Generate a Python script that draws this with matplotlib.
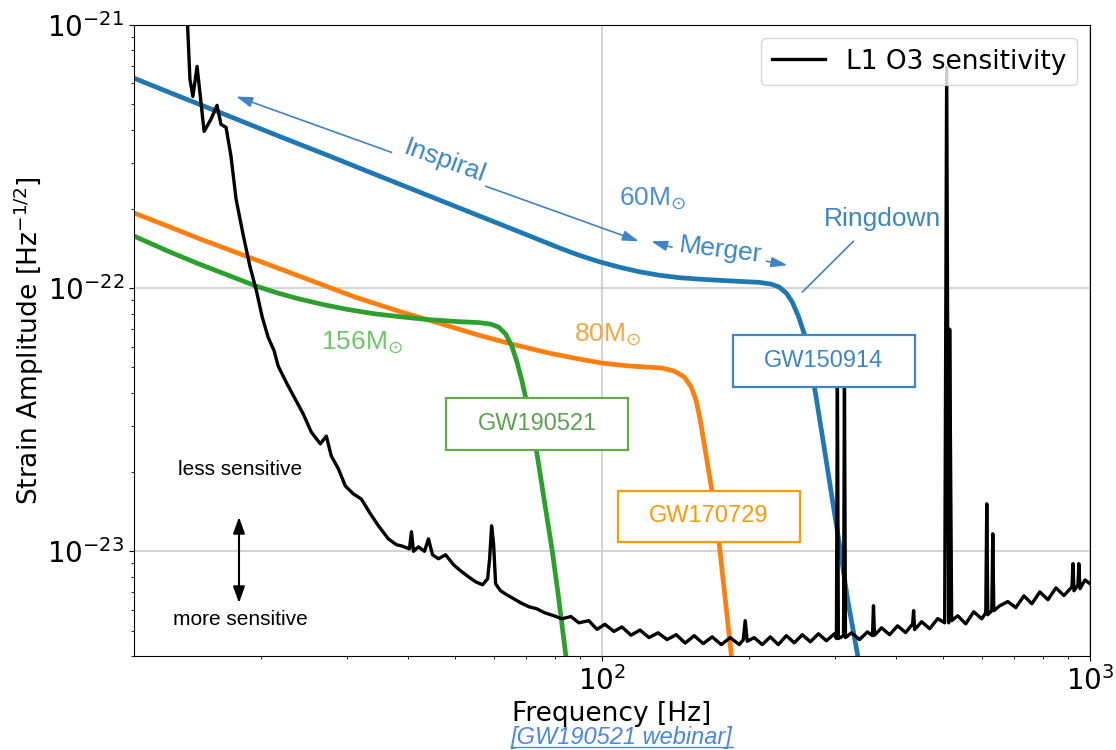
import numpy as np
import matplotlib.pyplot as plt
from matplotlib.patches import Rectangle
from matplotlib.lines import Line2D

# L1 O3 amplitude spectral density, strain values in units of 1e-23 / sqrt(Hz)
l1_freq = [14.1, 14.32, 14.52, 14.81, 15.31, 15.81, 16.27, 16.58, 16.98, 17.38,
           17.80, 18.40, 19.02, 19.56, 20.14, 20.70, 21.31, 21.71, 22.65, 23.53,
           24.43, 25.38, 26.49, 27.25, 27.9, 28.84, 29.8, 30.95, 32.14, 33.55,
           34.84, 36.52, 37.93, 38.83, 40.33, 40.72, 41.11, 42.08, 43.3, 44.12,
           44.97, 46.25, 47.83, 49.67, 51.35, 53.3, 55.1, 56.94, 58.32, 58.88,
           59.43, 59.99, 60.56, 62.0, 63.8, 65.95, 68.2, 70.8, 73.5, 76.37,
           79.7, 82.8, 86.4, 89.7, 94.0, 97.7, 101.4, 105.8, 109.9, 114.7,
           119.7, 124.9, 130.3, 136.0, 142.0, 148.1, 154.5, 161.3, 168.2, 175.6,
           183.2, 191.1, 194.8, 196.6, 198.5, 205.1, 213.1, 221.3, 229.8, 238.7,
           247.8, 257.4, 267.4, 277.7, 288.4, 299.5, 302.3, 303.7, 305.1, 312.6,
           314.0, 315.5, 324.6, 337.1, 350.0, 358.4, 360.1, 361.8, 374.1, 388.5,
           403.4, 419.0, 433.1, 435.1, 437.2, 451.9, 469.4, 487.5, 503.8, 508.6,
           513.4, 515.8, 520.7, 535.8, 556.4, 577.8, 600.1, 611.6, 614.5, 617.4,
           629.2, 632.2, 635.2, 653.3, 678.6, 704.7, 732.1, 760.3, 789.1, 820.0,
           851.6, 884.4, 918.5, 922.9, 927.1, 944.8, 948.6, 953.9, 976.6, 1000.0]
l1_asd = [120, 62.1, 53.5, 69.6, 39.4, 43.8, 49.5, 41.9, 40.8, 31.7,
          21.8, 16.0, 12.02, 9.91, 7.76, 6.52, 5.77, 5.06, 4.32, 3.79,
          3.33, 2.84, 2.56, 2.74, 2.30, 2.06, 1.772, 1.653, 1.58, 1.388,
          1.25, 1.115, 1.059, 1.049, 1.022, 1.186, 1.0, 1.04, 1.0, 1.115,
          0.97, 0.937, 0.97, 0.889, 0.843, 0.80, 0.766, 0.746, 0.786, 0.937,
          1.25, 1.068, 0.753, 0.708, 0.684, 0.660, 0.637, 0.616, 0.605, 0.584,
          0.569, 0.554, 0.565, 0.535, 0.545, 0.505, 0.528, 0.496, 0.516, 0.480,
          0.502, 0.470, 0.490, 0.462, 0.482, 0.448, 0.478, 0.446, 0.473, 0.442,
          0.470, 0.442, 0.461, 0.545, 0.455, 0.470, 0.442, 0.473, 0.442, 0.478,
          0.449, 0.482, 0.453, 0.486, 0.457, 0.486, 0.466, 4.8, 0.466, 0.478,
          4.5, 0.470, 0.490, 0.462, 0.494, 0.478, 0.621, 0.480, 0.512, 0.482,
          0.521, 0.491, 0.530, 0.595, 0.504, 0.540, 0.508, 0.555, 0.535, 69.0,
          0.535, 6.98, 0.545, 0.569, 0.530, 0.589, 0.554, 0.584, 1.515, 0.574,
          0.595, 1.165, 0.595, 0.621, 0.644, 0.611, 0.677, 0.632, 0.701, 0.655,
          0.726, 0.679, 0.733, 0.897, 0.708, 0.746, 0.897, 0.721, 0.778, 0.753]

# 60 Msun (GW150914) characteristic amplitude, units of 1e-23
gw150914_freq = [10.9, 13.53, 17.14, 21.71, 27.50, 34.84, 44.12, 55.88, 70.8, 81.58,
                 89.7, 98.6, 108.4, 119.1, 130.9, 143.9, 158.2, 173.9, 191.1, 210.1,
                 222.3, 230.9, 238.7, 245.5, 252.6, 259.9, 267.4, 275.1, 285.6, 295.3,
                 306.6, 318.5, 334.0, 340.4]
gw150914_amp = [63.2, 53.8, 45.2, 37.9, 31.9, 26.75, 22.46, 18.86, 15.84, 14.25,
                13.34, 12.61, 12.02, 11.55, 11.20, 10.96, 10.82, 10.71, 10.61, 10.52,
                10.36, 10.09, 9.57, 8.85, 7.83, 6.69, 5.15, 3.79, 2.45, 1.653,
                1.068, 0.660, 0.405, 0.328]

# 80 Msun (GW170729)
gw170729_freq = [10.9, 12.91, 14.88, 17.97, 21.71, 26.23, 31.25, 38.28, 45.6, 55.88,
                 65.35, 77.81, 89.7, 100, 113.6, 132.8, 140.6, 147.4, 152.4, 156.0,
                 158.9, 162.0, 168.2, 173.9, 178.9, 184.1, 185.8]
gw170729_amp = [19.43, 17.19, 15.48, 13.58, 11.91, 10.44, 9.24, 8.18, 7.43, 6.63,
                6.13, 5.67, 5.38, 5.19, 5.06, 4.97, 4.84, 4.60, 4.21, 3.73,
                3.18, 2.56, 1.68, 1.068, 0.660, 0.405, 0.328]

# 156 Msun (GW190521)
gw190521_freq = [10.9, 12.91, 14.88, 17.14, 19.56, 21.71, 23.86, 26.85, 30.23, 34.02,
                 38.28, 44.12, 50.84, 55.88, 59.2, 61.43, 63.52, 65.35, 66.9, 68.5,
                 70.8, 73.2, 76.0, 79.0, 81.58, 84.3, 85.1]
gw190521_amp = [15.89, 13.82, 12.39, 11.20, 10.18, 9.57, 9.12, 8.66, 8.29, 8.00,
                7.80, 7.59, 7.46, 7.40, 7.30, 7.11, 6.69, 6.03, 5.28, 4.48,
                3.41, 2.51, 1.61, 1.022, 0.660, 0.405, 0.328]

unit = 1e-23
blue_txt = '#3d85c6'
ann = 'Liberation Sans'

fig = plt.figure(figsize=(11.16, 7.5), dpi=100)
ax = fig.add_axes([0.1201, 0.1253, 0.8566, 0.8414])

ax.loglog(gw150914_freq, np.array(gw150914_amp) * unit, color='#1f77b4', lw=3.4, zorder=2)
ax.loglog(gw170729_freq, np.array(gw170729_amp) * unit, color='#ff7f0e', lw=3.4, zorder=2)
ax.loglog(gw190521_freq, np.array(gw190521_amp) * unit, color='#2ca02c', lw=3.4, zorder=2)
ax.loglog(l1_freq, np.array(l1_asd) * unit, color='black', lw=2.4, zorder=3,
          label='L1 O3 sensitivity')

ax.set_xlim(11, 1000)
ax.set_ylim(4e-24, 1e-21)
ax.set_xticks([100, 1000])
ax.set_yticks([1e-23, 1e-22, 1e-21])
ax.grid(True, which='major', color='#cccccc', lw=1.2)
ax.tick_params(labelsize=20)
ax.set_xlabel('Frequency [Hz]', fontsize=19)
ax.set_ylabel('Strain Amplitude [Hz$^{-1/2}$]', fontsize=19, labelpad=1)
ax.legend(loc='upper right', fontsize=19)

# phase annotations for the 60 Msun curve
arr = dict(arrowstyle='-|>,head_length=0.7,head_width=0.22', color=blue_txt, lw=1.2,
           mutation_scale=14, shrinkA=0, shrinkB=0)
ax.annotate('', xy=(17.8, 5.35e-22), xytext=(37.06, 3.28e-22), arrowprops=arr)
ax.annotate('', xy=(119.1, 1.507e-22), xytext=(57.77, 2.44e-22), arrowprops=arr)
ax.text(47.6, 3.03e-22, 'Inspiral', rotation=-20, rotation_mode='anchor', ha='center',
        va='center', color=blue_txt, fontsize=19, family=ann)
ax.annotate('', xy=(126.1, 1.507e-22), xytext=(139.2, 1.43e-22), arrowprops=arr)
ax.annotate('', xy=(240, 1.222e-22), xytext=(217.3, 1.266e-22), arrowprops=arr)
ax.text(174.7, 1.394e-22, 'Merger', rotation=-7, rotation_mode='anchor', ha='center',
        va='center', color=blue_txt, fontsize=19, family=ann)
ax.annotate('', xy=(257.4, 9.66e-23), xytext=(327.6, 1.507e-22),
            arrowprops=dict(arrowstyle='-', color=blue_txt, lw=1.2, shrinkA=0, shrinkB=0))
ax.text(285.6, 1.72e-22, 'Ringdown', ha='left', va='baseline', color=blue_txt,
        fontsize=19, family=ann)

# mass labels
ax.text(108.4, 2.065e-22, '60M$_{\\odot}$', color='#4a8fdc', fontsize=19, family=ann,
        va='baseline')
ax.text(87.6, 6.29e-23, '80M$_{\\odot}$', color='#f6a444', fontsize=19, family=ann,
        va='baseline')
ax.text(26.6, 5.87e-23, '156M$_{\\odot}$', color='#72c46a', fontsize=19, family=ann,
        va='baseline')

# event boxes (axes fraction)
boxes = [('GW150914', 0.6266, 0.4263, 0.1903, 0.0824, blue_txt, blue_txt),
         ('GW190521', 0.3264, 0.3265, 0.1903, 0.0824, '#6aa84f', '#5ba44f'),
         ('GW170729', 0.5063, 0.1802, 0.1904, 0.0818, '#ff9900', '#ff9900')]
for name, x0, y0, w, h, ec, tc in boxes:
    ax.add_patch(Rectangle((x0, y0), w, h, transform=ax.transAxes, facecolor='white',
                           edgecolor=ec, lw=1.6, zorder=6))
    ax.text(x0 + w / 2, y0 + h / 2, name, transform=ax.transAxes, ha='center',
            va='center', color=tc, fontsize=17, family=ann, zorder=7)

# sensitivity direction hint
ax.text(0.1109, 0.2948, 'less sensitive', transform=ax.transAxes, ha='center',
        va='center', fontsize=15, family=ann)
ax.text(0.1109, 0.0571, 'more sensitive', transform=ax.transAxes, ha='center',
        va='center', fontsize=15, family=ann)
ax.annotate('', xy=(0.1098, 0.2203), xytext=(0.1098, 0.084), xycoords='axes fraction',
            arrowprops=dict(arrowstyle='<|-|>,head_length=0.7,head_width=0.25',
                            color='black', lw=1.5, mutation_scale=14,
                            shrinkA=0, shrinkB=0))

# source link
src = fig.text(0.557, 0.0165, '[GW190521 webinar]', ha='center', va='center',
               color='#4a86e8', fontsize=17, style='italic', family=ann)
fig.canvas.draw()
bb = src.get_window_extent()
W, H = fig.canvas.get_width_height()
fig.add_artist(Line2D([bb.x0 / W, bb.x1 / W], [(bb.y0 + 2) / H, (bb.y0 + 2) / H],
                      color='#4a86e8', lw=1.0))

fig.savefig('out.png', dpi=100)
